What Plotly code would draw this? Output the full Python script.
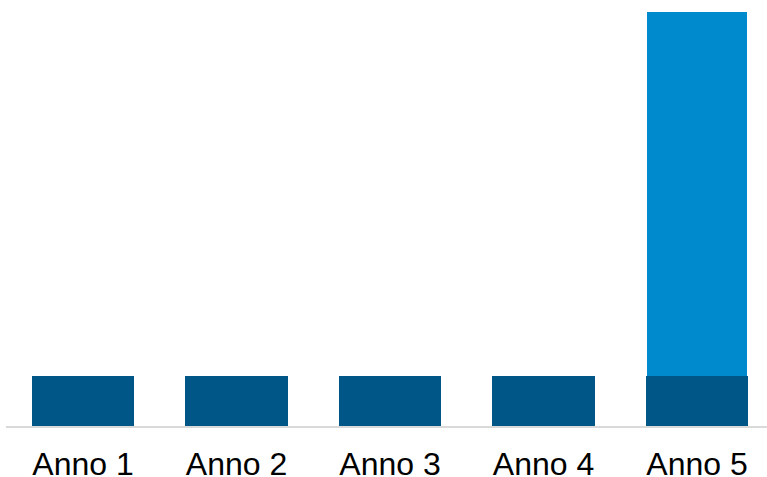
import plotly.graph_objects as go

categories = ["Anno 1", "Anno 2", "Anno 3", "Anno 4", "Anno 5"]
base_values = [1.0, 1.0, 1.0, 1.0, 1.0]
extra_values = [0, 0, 0, 0, 7.26]

dark_blue = "#005687"
light_blue = "#008ACE"

fig = go.Figure()
fig.add_trace(go.Bar(x=categories, y=base_values, marker=dict(color=dark_blue, line=dict(width=0)), width=0.665))
fig.add_trace(go.Bar(x=categories, y=extra_values, marker=dict(color=light_blue, line=dict(width=0)), width=0.655))

fig.update_layout(
    barmode="stack",
    width=767, height=477,
    margin=dict(l=6, r=0, t=0, b=51),
    paper_bgcolor="white", plot_bgcolor="white",
    showlegend=False,
    xaxis=dict(
        range=[-0.5016, 4.456],
        automargin=False,
        showline=True, linecolor="#d9d9d9", linewidth=1.5,
        showgrid=False, ticks="", zeroline=False,
        ticklabelstandoff=9,
        tickfont=dict(family="Liberation Sans, Arial", size=32, color="black"),
    ),
    yaxis=dict(range=[0, 8.5], visible=False, showgrid=False, zeroline=False, automargin=False),
)

fig.write_html("out.html")
